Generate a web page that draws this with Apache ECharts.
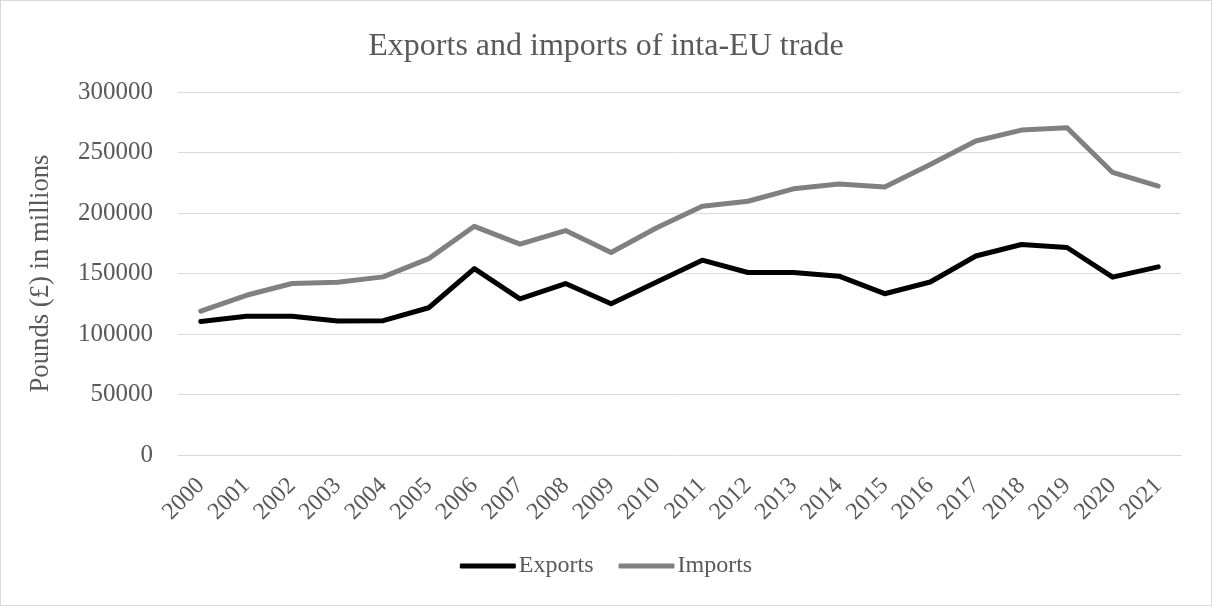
<!DOCTYPE html>
<html>
<head>
<meta charset="utf-8">
<script src="https://cdn.jsdelivr.net/npm/echarts@6/dist/echarts.min.js"></script>
<style>
html,body{margin:0;padding:0;background:#fff;}
#chart{width:1212px;height:606px;box-sizing:border-box;border:1px solid #d9d9d9;}
</style>
</head>
<body>
<div id="chart"></div>
<script>
const years = ['2000','2001','2002','2003','2004','2005','2006','2007','2008','2009','2010','2011','2012','2013','2014','2015','2016','2017','2018','2019','2020','2021'];
const exportsData = [110300,114700,114700,110800,111000,121700,154000,129000,141700,125000,143000,161000,150800,150800,147800,133300,143000,164500,174000,171500,147000,155500];
const importsData = [118900,132000,141700,142800,147200,162300,189000,174300,185500,167300,187800,205500,209700,220000,224000,221500,240000,259500,268500,270500,233500,222200];
const yTicks = { min: 0, max: 300000, interval: 50000 };

const font = 'Liberation Serif, Times New Roman, serif';
const textColor = '#595959';
const chart = echarts.init(document.getElementById('chart'), null, {renderer:'canvas'});
chart.setOption({
  animation: false,
  backgroundColor: '#ffffff',
  title: {
    text: 'Exports and imports of inta-EU trade',
    left: 'center', top: 25,
    textStyle: { fontFamily: font, fontSize: 32, fontWeight: 'normal', color: textColor }
  },
  legend: {
    bottom: 22, left: 'center',
    itemWidth: 56, itemHeight: 5, itemGap: 25,
    textStyle: { fontFamily: font, fontSize: 24, color: textColor, padding: [0,0,0,-2] },
    data: [
      { name: 'Exports', icon: 'roundRect' },
      { name: 'Imports', icon: 'roundRect' }
    ]
  },
  grid: { left: 177, right: 30, top: 91, bottom: 150 },
  xAxis: {
    type: 'category',
    data: years,
    boundaryGap: true,
    axisLine: { show: true, lineStyle: { color: '#d9d9d9', width: 1 } },
    axisTick: { show: false },
    axisLabel: {
      rotate: 45, margin: 27,
      fontFamily: font, fontSize: 24, color: textColor, interval: 0
    }
  },
  yAxis: {
    type: 'value',
    min: yTicks.min, max: yTicks.max, interval: yTicks.interval,
    name: 'Pounds (£) in millions',
    nameLocation: 'middle', nameGap: 124,
    nameTextStyle: { fontFamily: font, fontSize: 26.7, color: textColor },
    axisLine: { show: false }, axisTick: { show: false },
    splitLine: { lineStyle: { color: '#d9d9d9', width: 1 } },
    axisLabel: { fontFamily: font, fontSize: 25, color: textColor, margin: 25,
      formatter: function (v) { return String(v); } }
  },
  series: [
    { name: 'Exports', type: 'line', data: exportsData, showSymbol: false, symbol: 'none',
      itemStyle: { color: '#000000' },
      lineStyle: { color: '#000000', width: 5, cap: 'round', join: 'round' } },
    { name: 'Imports', type: 'line', data: importsData, showSymbol: false, symbol: 'none',
      itemStyle: { color: '#808080' },
      lineStyle: { color: '#808080', width: 5, cap: 'round', join: 'round' } }
  ]
});
</script>
</body>
</html>
